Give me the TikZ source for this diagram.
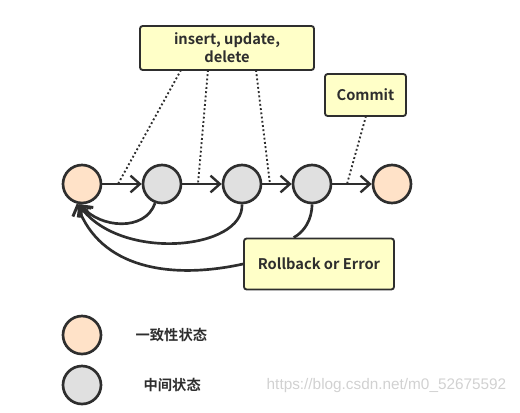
\documentclass[tikz,border=0pt]{standalone}
\usepackage{fontspec}
\setmainfont{Noto Sans CJK SC}[BoldFont={Noto Sans CJK SC Bold}]
\newfontfamily\wmfont{Liberation Sans}
\usetikzlibrary{arrows.meta}
\definecolor{stroke}{HTML}{2E2E2E}
\definecolor{peach}{HTML}{FFE2C8}
\definecolor{midgray}{HTML}{E0E0E0}
\definecolor{note}{HTML}{FFFFC8}
\tikzset{
  state/.style={circle, draw=stroke, line width=2pt, minimum size=28.5pt, inner sep=0pt},
  cons/.style={state, fill=peach},
  mid/.style={state, fill=midgray},
  notebox/.style={draw=stroke, line width=1.4pt, fill=note, rounded corners=2pt, font=\bfseries\fontsize{11}{13.5}\selectfont, text=stroke, align=center, inner sep=0pt},
  flow/.style={draw=stroke, line width=2pt, -{Straight Barb[length=7pt,width=12.5pt,line width=1.8pt]}},
  back/.style={draw=stroke, line width=2pt, -{Straight Barb[length=6.5pt,width=12pt,line width=2.2pt]}},
  link/.style={draw=stroke, line width=1.4pt, dash pattern=on 1.4pt off 1.8pt},
  legend/.style={font=\bfseries\fontsize{10.7}{12}\selectfont, text=stroke}
}
\begin{document}
\begin{tikzpicture}[x=0.75pt,y=-0.75pt]
\useasboundingbox (0,0) rectangle (520,412);
% states
\node[cons] (c1) at (82,184) {};
\node[mid]  (c2) at (162,184) {};
\node[mid]  (c3) at (242,184) {};
\node[mid]  (c4) at (312,184) {};
\node[cons] (c5) at (392,184) {};
% notes
\node[notebox, minimum width=130.5pt, minimum height=33pt] (ops) at (227,48) {insert, update,\\delete};
\node[notebox, minimum width=60.75pt, minimum height=31.5pt] (commit) at (365.5,95) {Commit};
\node[notebox, minimum width=112.5pt, minimum height=38.25pt] (rb) at (319,264) {Rollback or Error};
% forward arrows
\draw[flow] (c1) -- (c2);
\draw[flow] (c2) -- (c3);
\draw[flow] (c3) -- (c4);
\draw[flow] (c4) -- (c5);
% dotted links
\coordinate (d1) at (118,184);
\coordinate (d2) at (198,184);
\coordinate (d3) at (270,184);
\coordinate (d4) at (347,184);
\coordinate (o1) at (181,70);
\coordinate (o2) at (208,70);
\coordinate (o3) at (256,70);
\coordinate (o4) at (366,116);
\draw[link] (o1) -- (d1);
\draw[link] (o2) -- (d2);
\draw[link] (o3) -- (d3);
\draw[link] (o4) -- (d4);
% return curves
\draw[back] (c2.-110) .. controls (145,232) and (100,228) .. (c1.-95);
\draw[back] (c3.-90) .. controls (244,250) and (120,262) .. (c1.-100);
\draw[draw=stroke, line width=2pt] (c4.-90) .. controls (312,220) and (304,232) .. ([xshift=-19pt]rb.north);
\draw[back] (rb.west) .. controls (170,280) and (100,268) .. (c1.-105);
% legend
\node[cons] (l1) at (82,335) {};
\node[mid]  (l2) at (82,385) {};
\node[legend, anchor=west] (t1) at (131,335) {一致性状态};
\node[legend, anchor=west] (t2) at (139,385) {中间状态};
\node[anchor=west, text=black!18, font=\wmfont\fontsize{11.5}{12}\selectfont] (wm) at (262,386) {https://blog.csdn.net/m0\_52675592};
\end{tikzpicture}
\end{document}
